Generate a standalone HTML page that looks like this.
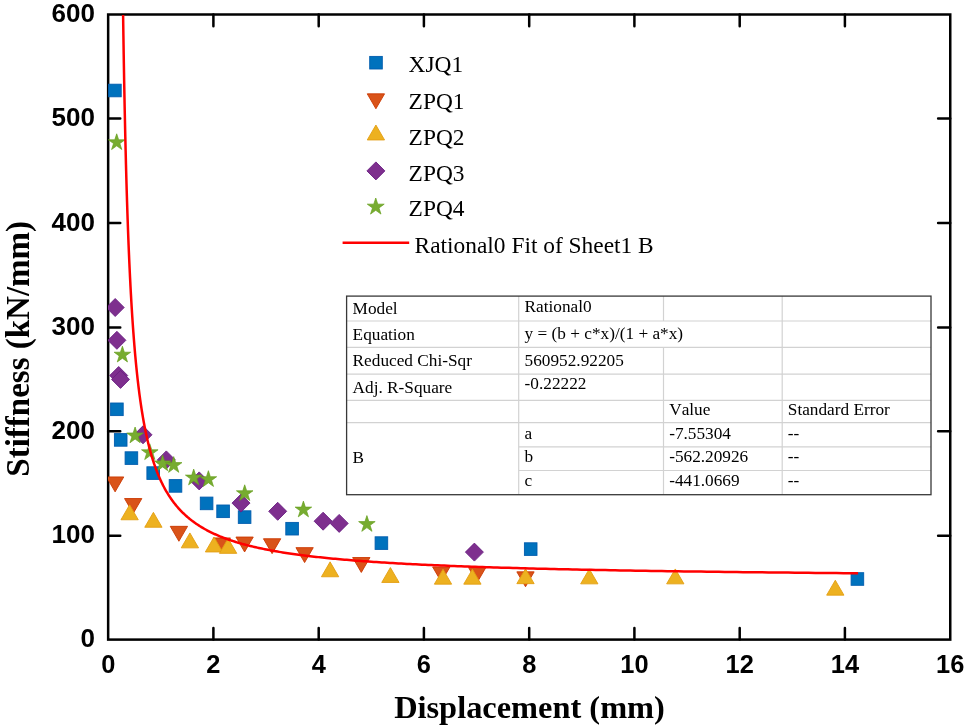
<!DOCTYPE html>
<html><head><meta charset="utf-8"><title>Stiffness vs Displacement</title>
<style>
html,body{margin:0;padding:0;background:#fff;}
body{width:969px;height:726px;overflow:hidden;}
svg{display:block;}
text{font-kerning:none;font-variant-ligatures:none;}
svg{will-change:transform;}
.tk{font-family:"Liberation Sans",sans-serif;font-weight:bold;font-size:26px;fill:#000;}
.ti{font-family:"Liberation Serif",serif;font-weight:bold;font-size:32.4px;fill:#000;}
.lg{font-family:"Liberation Serif",serif;font-size:23.4px;fill:#000;}
.tb{font-family:"Liberation Serif",serif;font-size:17.25px;fill:#000;}
</style></head><body>
<svg width="969" height="726" viewBox="0 0 969 726">
<rect width="969" height="726" fill="#fff"/>
<rect x="108.15" y="14.5" width="842.1" height="625.1" fill="none" stroke="#000" stroke-width="2.5"/>
<path d="M213.4 639.6V627.9M213.4 14.5V26.2M318.7 639.6V627.9M318.7 14.5V26.2M423.9 639.6V627.9M423.9 14.5V26.2M529.2 639.6V627.9M529.2 14.5V26.2M634.4 639.6V627.9M634.4 14.5V26.2M739.7 639.6V627.9M739.7 14.5V26.2M844.9 639.6V627.9M844.9 14.5V26.2M108.15 535.7H120.25M950.2 535.7H938.1M108.15 431.3H120.25M950.2 431.3H938.1M108.15 327.5H120.25M950.2 327.5H938.1M108.15 223.0H120.25M950.2 223.0H938.1M108.15 118.5H120.25M950.2 118.5H938.1" stroke="#000" stroke-width="2.5" fill="none" stroke-linecap="round"/>
<text class="tk" style="font-size:25.4px" x="108.2" y="672.7" text-anchor="middle">0</text>
<text class="tk" style="font-size:25.4px" x="213.4" y="672.7" text-anchor="middle">2</text>
<text class="tk" style="font-size:25.4px" x="318.7" y="672.7" text-anchor="middle">4</text>
<text class="tk" style="font-size:25.4px" x="423.9" y="672.7" text-anchor="middle">6</text>
<text class="tk" style="font-size:25.4px" x="529.2" y="672.7" text-anchor="middle">8</text>
<text class="tk" style="font-size:25.4px" x="634.4" y="672.7" text-anchor="middle">10</text>
<text class="tk" style="font-size:25.4px" x="739.7" y="672.7" text-anchor="middle">12</text>
<text class="tk" style="font-size:25.4px" x="844.9" y="672.7" text-anchor="middle">14</text>
<text class="tk" style="font-size:25.4px" x="950.2" y="672.7" text-anchor="middle">16</text>
<text class="tk" x="95" y="647.3" text-anchor="end">0</text>
<text class="tk" x="95" y="543.1" text-anchor="end">100</text>
<text class="tk" x="95" y="438.9" text-anchor="end">200</text>
<text class="tk" x="95" y="334.8" text-anchor="end">300</text>
<text class="tk" x="95" y="230.6" text-anchor="end">400</text>
<text class="tk" x="95" y="126.4" text-anchor="end">500</text>
<text class="tk" x="95" y="22.2" text-anchor="end">600</text>
<text class="ti" x="529.5" y="718" text-anchor="middle">Displacement (mm)</text>
<text class="ti" style="font-size:33px" transform="translate(29,348.8) rotate(-90)" text-anchor="middle">Stiffness (kN/mm)</text>
<clipPath id="pc"><rect x="107.9" y="0" width="860" height="726"/></clipPath><g clip-path="url(#pc)">
<rect x="108.60" y="84.20" width="12.6" height="12.6" fill="#0072BD" stroke="#005CAE" stroke-width="0.9"/>
<rect x="110.60" y="403.00" width="12.6" height="12.6" fill="#0072BD" stroke="#005CAE" stroke-width="0.9"/>
<rect x="114.40" y="433.60" width="12.6" height="12.6" fill="#0072BD" stroke="#005CAE" stroke-width="0.9"/>
<rect x="125.10" y="451.80" width="12.6" height="12.6" fill="#0072BD" stroke="#005CAE" stroke-width="0.9"/>
<rect x="146.90" y="466.80" width="12.6" height="12.6" fill="#0072BD" stroke="#005CAE" stroke-width="0.9"/>
<rect x="169.20" y="479.60" width="12.6" height="12.6" fill="#0072BD" stroke="#005CAE" stroke-width="0.9"/>
<rect x="200.30" y="497.10" width="12.6" height="12.6" fill="#0072BD" stroke="#005CAE" stroke-width="0.9"/>
<rect x="216.80" y="505.00" width="12.6" height="12.6" fill="#0072BD" stroke="#005CAE" stroke-width="0.9"/>
<rect x="238.30" y="510.80" width="12.6" height="12.6" fill="#0072BD" stroke="#005CAE" stroke-width="0.9"/>
<rect x="285.80" y="522.40" width="12.6" height="12.6" fill="#0072BD" stroke="#005CAE" stroke-width="0.9"/>
<rect x="375.10" y="536.80" width="12.6" height="12.6" fill="#0072BD" stroke="#005CAE" stroke-width="0.9"/>
<rect x="524.40" y="542.80" width="12.6" height="12.6" fill="#0072BD" stroke="#005CAE" stroke-width="0.9"/>
<rect x="851.10" y="572.70" width="12.6" height="12.6" fill="#0072BD" stroke="#005CAE" stroke-width="0.9"/>
<path d="M106.45 476.95H123.75L115.10 491.85Z" fill="#D95319" stroke="#CB3800" stroke-width="0.9" stroke-linejoin="miter"/>
<path d="M124.55 498.55H141.85L133.20 513.45Z" fill="#D95319" stroke="#CB3800" stroke-width="0.9" stroke-linejoin="miter"/>
<path d="M170.25 526.35H187.55L178.90 541.25Z" fill="#D95319" stroke="#CB3800" stroke-width="0.9" stroke-linejoin="miter"/>
<path d="M213.15 537.95H230.45L221.80 552.85Z" fill="#D95319" stroke="#CB3800" stroke-width="0.9" stroke-linejoin="miter"/>
<path d="M235.95 537.05H253.25L244.60 551.95Z" fill="#D95319" stroke="#CB3800" stroke-width="0.9" stroke-linejoin="miter"/>
<path d="M263.45 538.75H280.75L272.10 553.65Z" fill="#D95319" stroke="#CB3800" stroke-width="0.9" stroke-linejoin="miter"/>
<path d="M295.95 547.65H313.25L304.60 562.55Z" fill="#D95319" stroke="#CB3800" stroke-width="0.9" stroke-linejoin="miter"/>
<path d="M352.65 557.55H369.95L361.30 572.45Z" fill="#D95319" stroke="#CB3800" stroke-width="0.9" stroke-linejoin="miter"/>
<path d="M432.65 566.95H449.95L441.30 581.85Z" fill="#D95319" stroke="#CB3800" stroke-width="0.9" stroke-linejoin="miter"/>
<path d="M468.55 567.55H485.85L477.20 582.45Z" fill="#D95319" stroke="#CB3800" stroke-width="0.9" stroke-linejoin="miter"/>
<path d="M516.85 571.85H534.15L525.50 586.75Z" fill="#D95319" stroke="#CB3800" stroke-width="0.9" stroke-linejoin="miter"/>
<path d="M120.95 519.75H138.25L129.60 504.85Z" fill="#EDB120" stroke="#E39E12" stroke-width="0.9" stroke-linejoin="miter"/>
<path d="M144.75 527.25H162.05L153.40 512.35Z" fill="#EDB120" stroke="#E39E12" stroke-width="0.9" stroke-linejoin="miter"/>
<path d="M181.25 547.85H198.55L189.90 532.95Z" fill="#EDB120" stroke="#E39E12" stroke-width="0.9" stroke-linejoin="miter"/>
<path d="M205.35 551.95H222.65L214.00 537.05Z" fill="#EDB120" stroke="#E39E12" stroke-width="0.9" stroke-linejoin="miter"/>
<path d="M219.45 553.35H236.75L228.10 538.45Z" fill="#EDB120" stroke="#E39E12" stroke-width="0.9" stroke-linejoin="miter"/>
<path d="M321.45 576.75H338.75L330.10 561.85Z" fill="#EDB120" stroke="#E39E12" stroke-width="0.9" stroke-linejoin="miter"/>
<path d="M381.75 582.45H399.05L390.40 567.55Z" fill="#EDB120" stroke="#E39E12" stroke-width="0.9" stroke-linejoin="miter"/>
<path d="M434.35 584.15H451.65L443.00 569.25Z" fill="#EDB120" stroke="#E39E12" stroke-width="0.9" stroke-linejoin="miter"/>
<path d="M463.75 584.15H481.05L472.40 569.25Z" fill="#EDB120" stroke="#E39E12" stroke-width="0.9" stroke-linejoin="miter"/>
<path d="M516.85 583.65H534.15L525.50 568.75Z" fill="#EDB120" stroke="#E39E12" stroke-width="0.9" stroke-linejoin="miter"/>
<path d="M580.65 583.85H597.95L589.30 568.95Z" fill="#EDB120" stroke="#E39E12" stroke-width="0.9" stroke-linejoin="miter"/>
<path d="M666.65 583.85H683.95L675.30 568.95Z" fill="#EDB120" stroke="#E39E12" stroke-width="0.9" stroke-linejoin="miter"/>
<path d="M826.65 595.15H843.95L835.30 580.25Z" fill="#EDB120" stroke="#E39E12" stroke-width="0.9" stroke-linejoin="miter"/>
<path d="M106.20 307.50L115.20 298.50L124.20 307.50L115.20 316.50Z" fill="#7E2F8E" stroke="#6A1F82" stroke-width="0.9"/>
<path d="M107.90 340.30L116.90 331.30L125.90 340.30L116.90 349.30Z" fill="#7E2F8E" stroke="#6A1F82" stroke-width="0.9"/>
<path d="M109.70 375.50L118.70 366.50L127.70 375.50L118.70 384.50Z" fill="#7E2F8E" stroke="#6A1F82" stroke-width="0.9"/>
<path d="M111.50 379.40L120.50 370.40L129.50 379.40L120.50 388.40Z" fill="#7E2F8E" stroke="#6A1F82" stroke-width="0.9"/>
<path d="M134.00 434.80L143.00 425.80L152.00 434.80L143.00 443.80Z" fill="#7E2F8E" stroke="#6A1F82" stroke-width="0.9"/>
<path d="M157.30 459.90L166.30 450.90L175.30 459.90L166.30 468.90Z" fill="#7E2F8E" stroke="#6A1F82" stroke-width="0.9"/>
<path d="M190.20 480.90L199.20 471.90L208.20 480.90L199.20 489.90Z" fill="#7E2F8E" stroke="#6A1F82" stroke-width="0.9"/>
<path d="M232.00 503.10L241.00 494.10L250.00 503.10L241.00 512.10Z" fill="#7E2F8E" stroke="#6A1F82" stroke-width="0.9"/>
<path d="M268.70 511.30L277.70 502.30L286.70 511.30L277.70 520.30Z" fill="#7E2F8E" stroke="#6A1F82" stroke-width="0.9"/>
<path d="M314.10 521.20L323.10 512.20L332.10 521.20L323.10 530.20Z" fill="#7E2F8E" stroke="#6A1F82" stroke-width="0.9"/>
<path d="M330.20 523.40L339.20 514.40L348.20 523.40L339.20 532.40Z" fill="#7E2F8E" stroke="#6A1F82" stroke-width="0.9"/>
<path d="M465.40 552.10L474.40 543.10L483.40 552.10L474.40 561.10Z" fill="#7E2F8E" stroke="#6A1F82" stroke-width="0.9"/>
<polygon points="116.70,133.80 118.65,139.81 124.97,139.81 119.86,143.53 121.81,149.54 116.70,145.82 111.59,149.54 113.54,143.53 108.43,139.81 114.75,139.81" fill="#77AC30" stroke="#669F1C" stroke-width="0.7" stroke-linejoin="miter"/>
<polygon points="122.40,346.20 124.35,352.21 130.67,352.21 125.56,355.93 127.51,361.94 122.40,358.22 117.29,361.94 119.24,355.93 114.13,352.21 120.45,352.21" fill="#77AC30" stroke="#669F1C" stroke-width="0.7" stroke-linejoin="miter"/>
<polygon points="135.10,427.00 137.05,433.01 143.37,433.01 138.26,436.73 140.21,442.74 135.10,439.02 129.99,442.74 131.94,436.73 126.83,433.01 133.15,433.01" fill="#77AC30" stroke="#669F1C" stroke-width="0.7" stroke-linejoin="miter"/>
<polygon points="149.80,443.80 151.75,449.81 158.07,449.81 152.96,453.53 154.91,459.54 149.80,455.82 144.69,459.54 146.64,453.53 141.53,449.81 147.85,449.81" fill="#77AC30" stroke="#669F1C" stroke-width="0.7" stroke-linejoin="miter"/>
<polygon points="162.60,454.90 164.55,460.91 170.87,460.91 165.76,464.63 167.71,470.64 162.60,466.92 157.49,470.64 159.44,464.63 154.33,460.91 160.65,460.91" fill="#77AC30" stroke="#669F1C" stroke-width="0.7" stroke-linejoin="miter"/>
<polygon points="173.70,456.60 175.65,462.61 181.97,462.61 176.86,466.33 178.81,472.34 173.70,468.62 168.59,472.34 170.54,466.33 165.43,462.61 171.75,462.61" fill="#77AC30" stroke="#669F1C" stroke-width="0.7" stroke-linejoin="miter"/>
<polygon points="193.70,469.10 195.65,475.11 201.97,475.11 196.86,478.83 198.81,484.84 193.70,481.12 188.59,484.84 190.54,478.83 185.43,475.11 191.75,475.11" fill="#77AC30" stroke="#669F1C" stroke-width="0.7" stroke-linejoin="miter"/>
<polygon points="208.40,470.70 210.35,476.71 216.67,476.71 211.56,480.43 213.51,486.44 208.40,482.72 203.29,486.44 205.24,480.43 200.13,476.71 206.45,476.71" fill="#77AC30" stroke="#669F1C" stroke-width="0.7" stroke-linejoin="miter"/>
<polygon points="244.70,484.80 246.65,490.81 252.97,490.81 247.86,494.53 249.81,500.54 244.70,496.82 239.59,500.54 241.54,494.53 236.43,490.81 242.75,490.81" fill="#77AC30" stroke="#669F1C" stroke-width="0.7" stroke-linejoin="miter"/>
<polygon points="303.40,501.10 305.35,507.11 311.67,507.11 306.56,510.83 308.51,516.84 303.40,513.12 298.29,516.84 300.24,510.83 295.13,507.11 301.45,507.11" fill="#77AC30" stroke="#669F1C" stroke-width="0.7" stroke-linejoin="miter"/>
<polygon points="366.90,515.60 368.85,521.61 375.17,521.61 370.06,525.33 372.01,531.34 366.90,527.62 361.79,531.34 363.74,525.33 358.63,521.61 364.95,521.61" fill="#77AC30" stroke="#669F1C" stroke-width="0.7" stroke-linejoin="miter"/>
</g>
<polyline points="123.10,15.03 123.25,25.23 123.40,35.17 123.55,44.85 123.70,54.29 123.85,63.48 124.01,72.44 124.16,81.18 124.32,89.71 124.48,98.03 124.64,106.15 124.80,114.07 124.97,121.81 125.13,129.37 125.30,136.75 125.47,143.96 125.64,151.01 125.81,157.90 125.98,164.64 126.16,171.23 126.33,177.67 126.51,183.98 126.69,190.14 126.88,196.18 127.06,202.09 127.25,207.87 127.43,213.54 127.62,219.09 127.82,224.52 128.01,229.84 128.20,235.06 128.40,240.17 128.60,245.18 128.80,250.09 129.01,254.91 129.21,259.63 129.42,264.26 129.63,268.80 129.84,273.26 130.05,277.63 130.27,281.92 130.48,286.13 130.70,290.26 130.93,294.32 131.15,298.30 131.38,302.21 131.60,306.05 131.84,309.82 132.07,313.53 132.30,317.17 132.54,320.74 132.78,324.25 133.02,327.70 133.27,331.10 133.52,334.43 133.76,337.71 134.02,340.93 134.27,344.09 134.53,347.21 134.79,350.27 135.05,353.28 135.31,356.24 135.58,359.15 135.85,362.02 136.12,364.84 136.40,367.61 136.68,370.34 136.96,373.02 137.24,375.66 137.53,378.27 137.82,380.82 138.11,383.34 138.40,385.82 138.70,388.27 139.00,390.67 139.30,393.04 139.61,395.37 139.92,397.66 140.23,399.92 140.55,402.15 140.87,404.34 141.19,406.50 141.51,408.63 141.84,410.72 142.17,412.79 142.51,414.82 142.84,416.83 143.19,418.80 143.53,420.75 143.88,422.67 144.23,424.56 144.58,426.42 144.94,428.26 145.31,430.07 145.67,431.86 146.04,433.62 146.41,435.35 146.79,437.06 147.17,438.75 147.55,440.41 147.94,442.05 148.33,443.67 148.73,445.26 149.13,446.84 149.53,448.39 149.94,449.92 150.35,451.43 150.76,452.92 151.18,454.39 151.60,455.84 152.03,457.27 152.46,458.68 152.90,460.07 153.34,461.44 153.78,462.80 154.23,464.13 154.69,465.45 155.14,466.76 155.61,468.04 156.07,469.31 156.54,470.56 157.02,471.80 157.50,473.01 157.99,474.22 158.48,475.41 158.97,476.58 159.47,477.74 159.98,478.88 160.49,480.01 161.00,481.12 161.52,482.22 162.05,483.31 162.58,484.38 163.11,485.44 163.65,486.49 164.20,487.52 164.75,488.54 165.31,489.54 165.87,490.54 166.44,491.52 167.01,492.49 167.59,493.45 168.17,494.40 168.76,495.33 169.36,496.25 169.96,497.16 170.57,498.07 171.18,498.95 171.80,499.83 172.43,500.70 173.06,501.56 173.70,502.41 174.34,503.24 175.00,504.07 175.65,504.89 176.32,505.70 176.99,506.49 177.66,507.28 178.35,508.06 179.04,508.83 179.74,509.59 180.44,510.34 181.15,511.09 181.87,511.82 182.59,512.54 183.33,513.26 184.07,513.97 184.81,514.67 185.57,515.36 186.33,516.05 187.10,516.72 187.87,517.39 188.66,518.05 189.45,518.70 190.25,519.35 191.06,519.99 191.87,520.62 192.70,521.24 193.53,521.85 194.37,522.46 195.22,523.07 196.07,523.66 196.94,524.25 197.81,524.83 198.69,525.40 199.58,525.97 200.48,526.54 201.39,527.09 202.31,527.64 203.23,528.18 204.17,528.72 205.11,529.25 206.07,529.78 207.03,530.29 208.00,530.81 208.98,531.32 209.98,531.82 210.98,532.31 211.99,532.80 213.01,533.29 214.04,533.77 215.08,534.24 216.13,534.71 217.20,535.18 218.27,535.64 219.35,536.09 220.45,536.54 221.55,536.98 222.67,537.42 223.79,537.86 224.93,538.29 226.08,538.71 227.24,539.13 228.41,539.55 229.59,539.96 230.79,540.36 231.99,540.76 233.21,541.16 234.44,541.56 235.68,541.94 236.94,542.33 238.21,542.71 239.48,543.09 240.78,543.46 242.08,543.83 243.40,544.19 244.73,544.55 246.07,544.91 247.43,545.26 248.80,545.61 250.18,545.96 251.58,546.30 252.99,546.63 254.41,546.97 255.85,547.30 257.31,547.63 258.77,547.95 260.25,548.27 261.75,548.59 263.26,548.90 264.79,549.21 266.33,549.52 267.88,549.82 269.46,550.12 271.04,550.42 272.64,550.71 274.26,551.00 275.90,551.29 277.55,551.57 279.21,551.86 280.89,552.14 282.59,552.41 284.31,552.68 286.04,552.95 287.79,553.22 289.56,553.48 291.34,553.75 293.14,554.01 294.96,554.26 296.80,554.51 298.66,554.77 300.53,555.01 302.42,555.26 304.33,555.50 306.26,555.74 308.21,555.98 310.18,556.22 312.17,556.45 314.17,556.68 316.20,556.91 318.25,557.13 320.31,557.36 322.40,557.58 324.51,557.80 326.64,558.01 328.79,558.23 330.96,558.44 333.15,558.65 335.36,558.86 337.60,559.06 339.85,559.26 342.13,559.47 344.43,559.66 346.76,559.86 349.10,560.06 351.47,560.25 353.87,560.44 356.28,560.63 358.72,560.82 361.19,561.00 363.68,561.19 366.19,561.37 368.73,561.55 371.29,561.72 373.88,561.90 376.49,562.07 379.13,562.25 381.80,562.42 384.49,562.59 387.21,562.75 389.95,562.92 392.73,563.08 395.52,563.24 398.35,563.41 401.21,563.56 404.09,563.72 407.00,563.88 409.94,564.03 412.91,564.18 415.90,564.33 418.93,564.48 421.99,564.63 425.08,564.78 428.19,564.92 431.34,565.06 434.52,565.21 437.73,565.35 440.97,565.49 444.25,565.62 447.55,565.76 450.89,565.89 454.26,566.03 457.66,566.16 461.10,566.29 464.57,566.42 468.08,566.55 471.62,566.67 475.20,566.80 478.81,566.92 482.45,567.05 486.13,567.17 489.85,567.29 493.61,567.41 497.40,567.53 501.23,567.64 505.09,567.76 509.00,567.87 512.94,567.99 516.92,568.10 520.94,568.21 525.00,568.32 529.10,568.43 533.24,568.54 537.42,568.64 541.65,568.75 545.91,568.85 550.22,568.96 554.56,569.06 558.95,569.16 563.39,569.26 567.87,569.36 572.39,569.46 576.95,569.56 581.57,569.65 586.22,569.75 590.92,569.84 595.67,569.94 600.47,570.03 605.31,570.12 610.20,570.21 615.14,570.30 620.13,570.39 625.16,570.48 630.25,570.57 635.38,570.65 640.57,570.74 645.80,570.82 651.09,570.91 656.43,570.99 661.83,571.07 667.27,571.15 672.77,571.23 678.33,571.31 683.93,571.39 689.60,571.47 695.32,571.55 701.09,571.62 706.92,571.70 712.81,571.77 718.76,571.85 724.77,571.92 730.83,571.99 736.96,572.07 743.14,572.14 749.39,572.21 755.69,572.28 762.06,572.35 768.50,572.42 774.99,572.48 781.55,572.55 788.17,572.62 794.86,572.68 801.62,572.75 808.44,572.81 815.33,572.88 822.28,572.94 829.31,573.00 836.40,573.07 843.56,573.13 850.80,573.19 858.10,573.25" fill="none" stroke="#FF0000" stroke-width="2.5" stroke-linejoin="round"/>
<rect x="369.70" y="56.40" width="12.6" height="12.6" fill="#0072BD" stroke="#005CAE" stroke-width="0.9"/>
<path d="M367.25 93.85H384.55L375.90 108.75Z" fill="#D95319" stroke="#CB3800" stroke-width="0.9" stroke-linejoin="miter"/>
<path d="M367.25 139.95H384.55L375.90 125.05Z" fill="#EDB120" stroke="#E39E12" stroke-width="0.9" stroke-linejoin="miter"/>
<path d="M366.90 170.90L375.90 161.90L384.90 170.90L375.90 179.90Z" fill="#7E2F8E" stroke="#6A1F82" stroke-width="0.9"/>
<polygon points="375.75,198.00 377.75,204.15 384.21,204.15 378.98,207.95 380.98,214.10 375.75,210.30 370.52,214.10 372.52,207.95 367.29,204.15 373.75,204.15" fill="#77AC30" stroke="#669F1C" stroke-width="0.7" stroke-linejoin="miter"/>
<path d="M342.6 242.8H409.2" stroke="#FF0000" stroke-width="2.5"/>
<text class="lg" x="408.6" y="72.2">XJQ1</text>
<text class="lg" x="408.6" y="108.9">ZPQ1</text>
<text class="lg" x="408.6" y="144.6">ZPQ2</text>
<text class="lg" x="408.6" y="180.7">ZPQ3</text>
<text class="lg" x="408.6" y="216.4">ZPQ4</text>
<text class="lg" x="414.6" y="253.0">Rational0 Fit of Sheet1 B</text>
<rect x="346.6" y="296.1" width="584.4" height="198.6" fill="#fff" stroke="none"/>
<path d="M346.6 321.0H931.0M346.6 347.4H931.0M346.6 374.2H931.0M346.6 400.3H931.0M346.6 422.7H931.0M518.7 446.8H931.0M518.7 470.5H931.0M518.7 296.1V494.7M663.5 296.1V321.0M663.5 347.4V494.7M782.2 296.1V494.7" stroke="#d2d2d2" stroke-width="1.2" fill="none"/>
<rect x="346.6" y="296.1" width="584.4" height="198.6" fill="none" stroke="#383838" stroke-width="1.3"/>
<text class="tb" x="352.6" y="314.3">Model</text>
<text class="tb" x="352.6" y="339.5">Equation</text>
<text class="tb" x="352.6" y="365.7">Reduced Chi-Sqr</text>
<text class="tb" x="352.6" y="393.2">Adj. R-Square</text>
<text class="tb" x="352.6" y="463.3">B</text>
<text class="tb" x="524.6" y="311.7">Rational0</text>
<text class="tb" x="524.6" y="339.2">y = (b + c*x)/(1 + a*x)</text>
<text class="tb" x="524.6" y="365.7">560952.92205</text>
<text class="tb" x="524.6" y="388.7">-0.22222</text>
<text class="tb" x="524.6" y="438.5">a</text>
<text class="tb" x="524.6" y="462.2">b</text>
<text class="tb" x="524.6" y="486.0">c</text>
<text class="tb" x="669.2" y="415.2">Value</text>
<text class="tb" x="669.2" y="438.5">-7.55304</text>
<text class="tb" x="669.2" y="462.2">-562.20926</text>
<text class="tb" x="669.2" y="486.0">-441.0669</text>
<text class="tb" x="787.8" y="415.2">Standard Error</text>
<text class="tb" x="787.8" y="438.5">--</text>
<text class="tb" x="787.8" y="462.2">--</text>
<text class="tb" x="787.8" y="486.0">--</text>
</svg>
</body></html>
